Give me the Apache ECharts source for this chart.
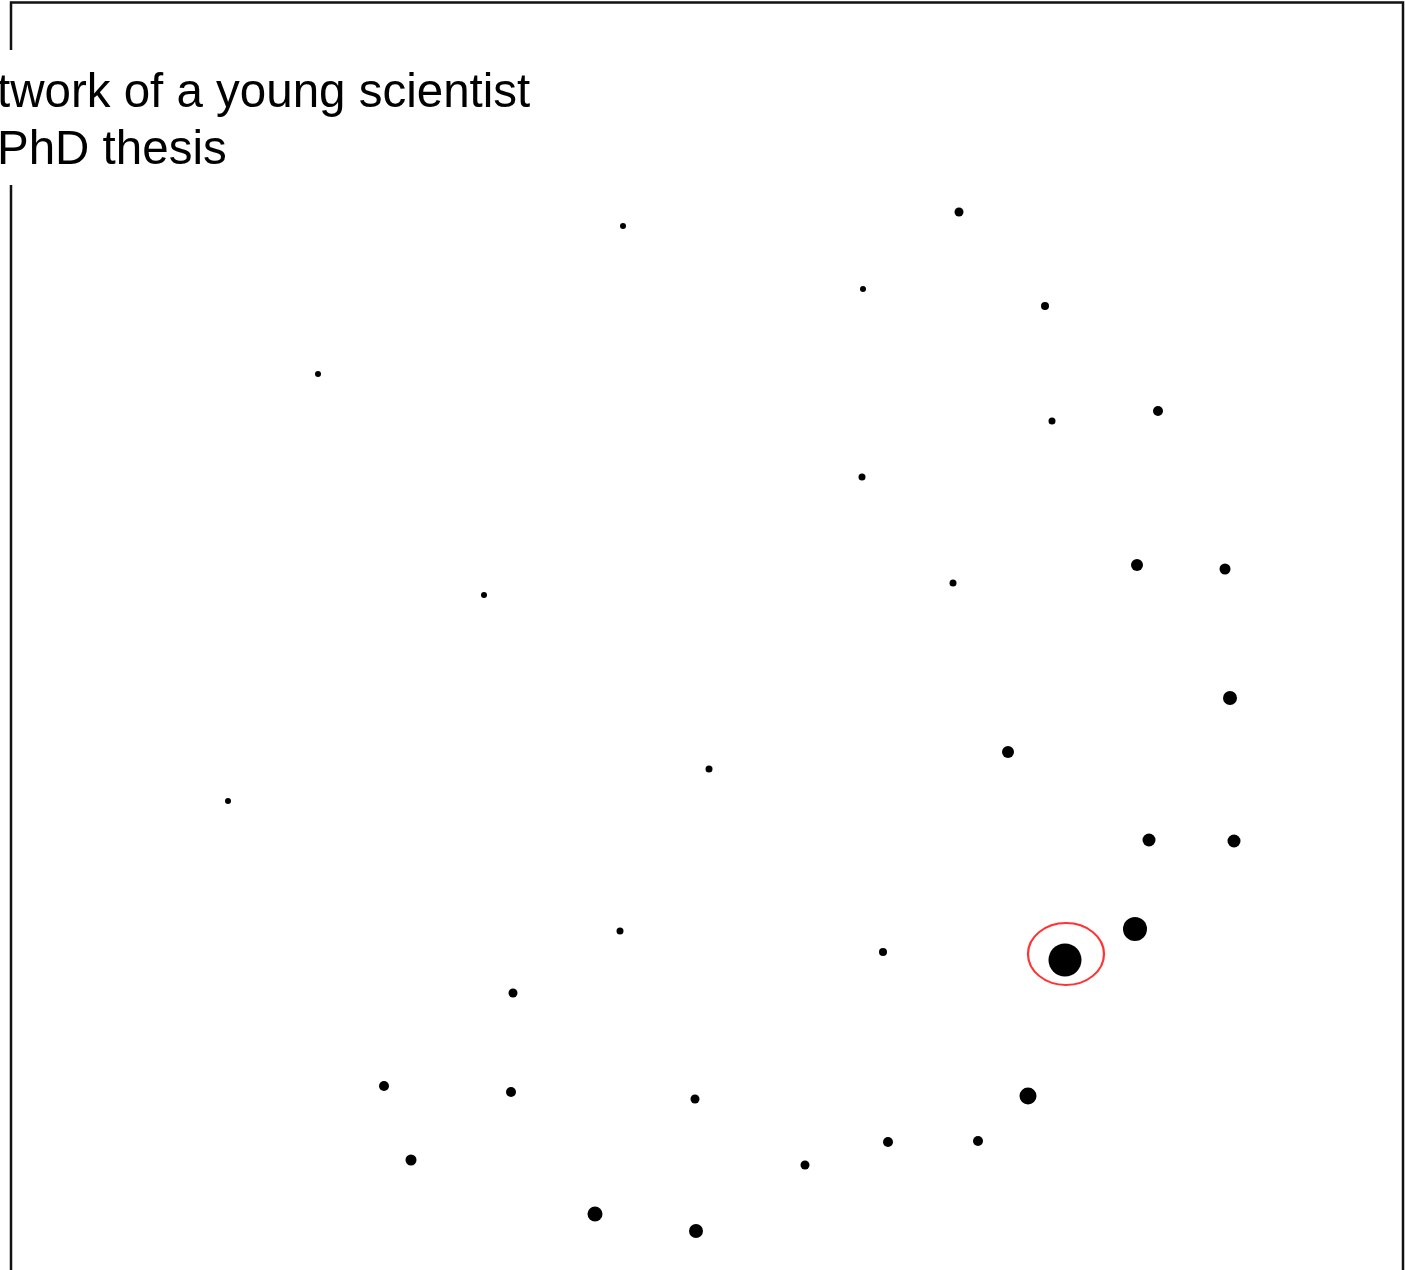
<!DOCTYPE html>
<html>
<head>
<meta charset="utf-8">
<script src="https://cdn.jsdelivr.net/npm/echarts@6/dist/echarts.min.js"></script>
<style>
  html, body { margin: 0; padding: 0; background: #fff; }
  #main { width: 1405px; height: 1270px; }
</style>
</head>
<body>
<div id="main"></div>
<script>
"use strict";

// node positions (x, y) and dot diameters
var nodeX = [959, 623, 863, 1045, 318, 1158, 1052, 862, 1137, 1225, 953, 484, 1230, 1008, 709, 228, 1149, 1234,
             1135, 620, 883, 1065, 513, 384, 511, 695, 1028, 978, 888, 411, 805, 595, 696];
var nodeY = [212, 226, 289, 306, 374, 411, 421, 477, 565, 569, 583, 595, 698, 752, 769, 801, 840, 841,
             929, 931, 952, 960, 993, 1086, 1092, 1099, 1096, 1141, 1142, 1160, 1165, 1214, 1231];
var nodeSize = [9, 6, 6, 8, 6, 10, 7, 7, 12, 11, 7, 6, 14, 12, 7, 6, 13, 13,
                24, 7, 8, 33, 9, 10, 10, 9, 17, 10, 10, 11, 9, 15, 14];

// highlighted node (red ellipse)
var markX = [1066];
var markY = [954];
var markW = [76];
var markH = [62];

var titleLines = ["twork of a young scientist", "PhD thesis"];

window.onload = function(){

    var nodes = [];
    for (var i = 0; i < nodeX.length; i++) {
        nodes.push({ value: [nodeX[i], nodeY[i]], symbolSize: nodeSize[i] });
    }
    var marks = [];
    for (var j = 0; j < markX.length; j++) {
        marks.push({ value: [markX[j], markY[j]], symbolSize: [markW[j], markH[j]] });
    }

    var option = {
        backgroundColor: '#fff',
        animation: false,
        title: {
            text: titleLines.join('\n'),
            left: -3,
            top: 50,
            padding: [15, 6, 6, 0],
            backgroundColor: '#fff',
            z: 20,
            textStyle: {
                fontFamily: 'Liberation Sans, Arial, sans-serif',
                fontSize: 47.5,
                fontWeight: 'normal',
                lineHeight: 57,
                color: '#000'
            }
        },
        graphic: [{
            type: 'rect',
            z: 1,
            shape: { x: 11, y: 2.5, width: 1392, height: 1300 },
            style: { fill: 'none', stroke: '#111', lineWidth: 2.5 }
        }],
        grid: { left: 0, right: 0, top: 0, bottom: 0 },
        xAxis: { type: 'value', min: 0, max: 1405, show: false },
        yAxis: { type: 'value', min: 0, max: 1270, inverse: true, show: false },
        series: [
            {
                type: 'scatter',
                symbol: 'circle',
                data: nodes,
                itemStyle: { color: '#000', opacity: 1 },
                z: 5
            },
            {
                type: 'scatter',
                symbol: 'circle',
                data: marks,
                itemStyle: { color: 'rgba(0,0,0,0)', borderColor: '#ff0000', borderWidth: 2 },
                z: 6
            }
        ]
    };

    var myChart = echarts.init(document.getElementById("main"));
    myChart.setOption(option);
};
</script>
</body>
</html>
